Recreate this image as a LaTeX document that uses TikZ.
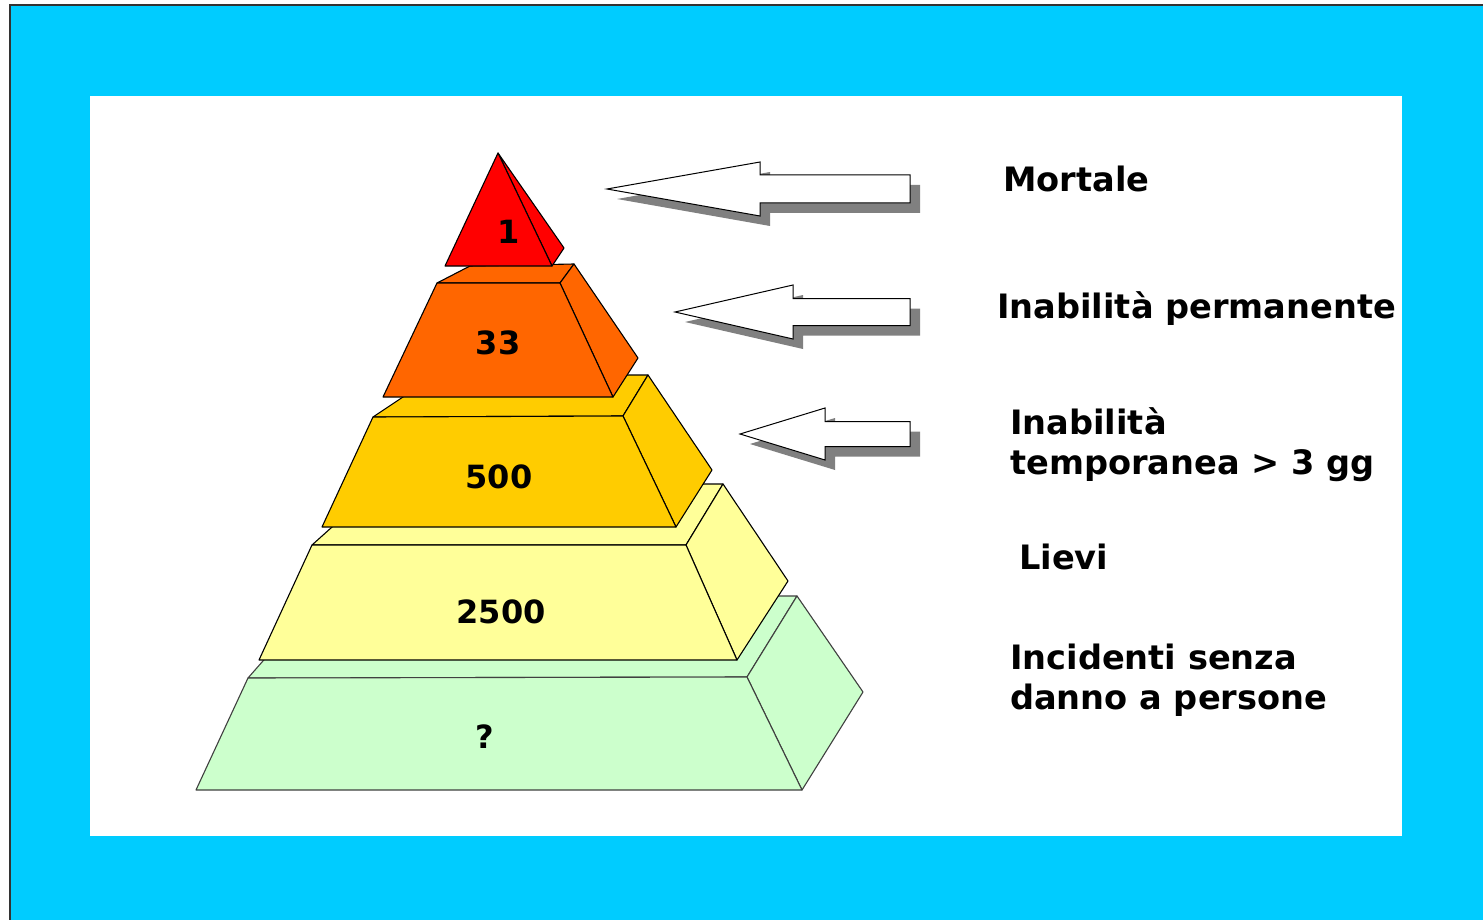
\documentclass[tikz,border=0pt]{standalone}
\usepackage{fontspec}
\setmainfont{DejaVu Sans}
\definecolor{skyblue}{HTML}{00CCFF}
\definecolor{framegray}{HTML}{333333}
\definecolor{lgreen}{HTML}{CCFFCC}
\definecolor{lyellow}{HTML}{FFFF99}
\definecolor{gold}{HTML}{FFCC00}
\definecolor{orng}{HTML}{FF6600}
\definecolor{rred}{HTML}{FF0000}
\definecolor{shadowgray}{HTML}{808080}
\newcommand\blkarrow[7]{% name, tipx, cy, headx, headhalf, shafthalf, rightx
  \fill[arrowshadow,shift={(10,10)}] (#2,#3) -- (#4,#3-#5) -- (#4,#3-#6) -- (#7,#3-#6) -- (#7,#3+#6) -- (#4,#3+#6) -- (#4,#3+#5) -- cycle;
  \draw[arrowbody] (#2,#3) coordinate (#1) -- (#4,#3-#5) -- (#4,#3-#6) -- (#7,#3-#6) -- (#7,#3+#6) -- (#4,#3+#6) -- (#4,#3+#5) -- cycle;
}
\begin{document}
\begin{tikzpicture}[x=1pt,y=-1pt,
  face/.style={draw=black,line width=1.1pt,line join=round},
  arrowbody/.style={draw=black,fill=white,line width=1pt,line join=miter},
  arrowshadow/.style={fill=shadowgray},
  lbl/.style={font=\fontsize{33.6}{40}\selectfont\bfseries,anchor=base west,inner sep=0pt},
  num/.style={font=\fontsize{32}{36}\selectfont\bfseries,inner sep=0pt}]
\useasboundingbox (0,0) rectangle (1483,920);
\fill[white] (0,0) rectangle (1483,920);
\fill[skyblue] (10,5) rectangle (1483,920);
\draw[framegray,line width=2pt] (10,920) -- (10,5) -- (1483,5);
\fill[white] (90,96) rectangle (1402,836);

% green layer
\draw[face,draw=black!75,fill=lgreen] (248,678) -- (747,677) -- (797,596) -- (320,596) -- cycle;
\draw[face,draw=black!75,fill=lgreen] (747,677) -- (802,790) -- (863,692) -- (797,596) -- cycle;
\draw[face,draw=black!75,fill=lgreen] (196,790) -- (802,790) -- (747,677) -- (248,678) -- cycle;
% pale yellow layer
\draw[face,fill=lyellow] (312,545) -- (686,545) -- (723,484) -- (380,484) -- cycle;
\draw[face,fill=lyellow] (686,545) -- (737,660) -- (788,581) -- (723,484) -- cycle;
\draw[face,fill=lyellow] (259,660) -- (737,660) -- (686,545) -- (312,545) -- cycle;
% gold layer
\draw[face,fill=gold] (373,417) -- (623,416) -- (648,375) -- (436,375) -- cycle;
\draw[face,fill=gold] (623,416) -- (676,527) -- (712,470) -- (648,375) -- cycle;
\draw[face,fill=gold] (322,527) -- (676,527) -- (623,416) -- (373,417) -- cycle;
% orange layer
\draw[face,fill=orng] (437,283) -- (560,283) -- (574,264) -- (470,266) -- cycle;
\draw[face,fill=orng] (560,283) -- (613,397) -- (638,358) -- (574,264) -- cycle;
\draw[face,fill=orng] (383,397) -- (613,397) -- (560,283) -- (437,283) -- cycle;
% red top
\draw[face,fill=rred] (498,153) -- (564,248) -- (552,266) -- cycle;
\draw[face,fill=rred] (498,153) -- (552,266) -- (445,266) -- cycle;

% numbers
\node[num] (n1) at (509,232) {1};
\node[num] (n33) at (498,343) {33};
\node[num] (n500) at (499,477) {500};
\node[num] (n2500) at (501,612) {2500};
\node[num] (nq) at (485,737) {?};

% arrows
\blkarrow{a1}{607}{189}{760}{27}{14}{910}
\blkarrow{a2}{675}{312}{793}{27}{13.5}{910}
\blkarrow{a3}{740}{434}{825}{26}{12.5}{910}

% labels
\node[lbl] (l1) at (1003,192) {Mortale};
\node[lbl] (l2) at (997,318) {Inabilità permanente};
\node[lbl] (l3a) at (1010,434) {Inabilità};
\node[lbl] (l3b) at (1010,474) {temporanea > 3 gg};
\node[lbl] (l4) at (1019,569) {Lievi};
\node[lbl] (l5a) at (1010,669) {Incidenti senza};
\node[lbl] (l5b) at (1010,709) {danno a persone};
\end{tikzpicture}
\end{document}
